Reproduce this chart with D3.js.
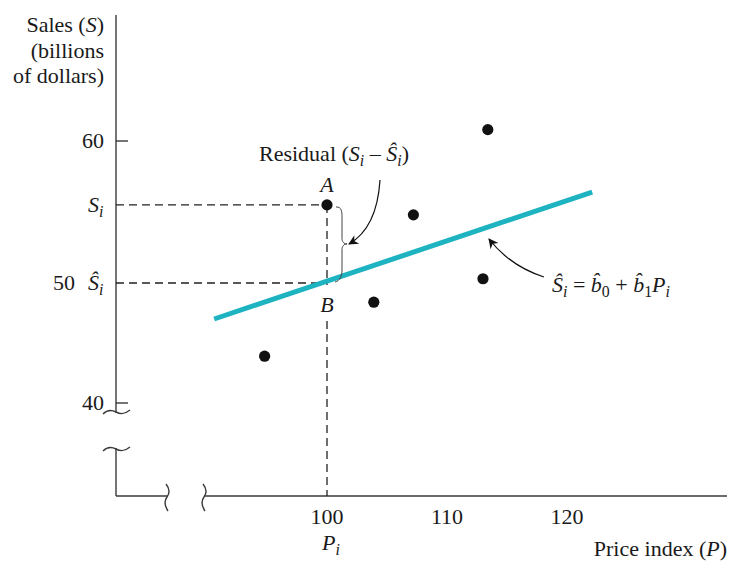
<!DOCTYPE html>
<html><head><meta charset="utf-8">
<script src="https://cdn.jsdelivr.net/npm/d3@7"></script>
<style>
body{margin:0;background:#fff;}
text{font-family:"Liberation Serif","Times New Roman",serif;fill:#1a1a1a;}
</style></head>
<body>
<svg id="c" width="729" height="564"></svg>
<script>
// ---- data ----
const xTickValues = [100, 110, 120];
const yTickValues = [40, 60];
const priceIndex = [94.8, 100, 103.9, 107.2, 113.0, 113.4];
const sales      = [43.9, 55.5, 48.4, 54.8, 50.3, 60.8];
const fitPrice = [90.6, 122.1];
const fitSales = [47.0, 56.4];
const highlightP = 100;     // P_i
const highlightS = 55.5;    // S_i
const highlightShat = 50;   // Ŝ_i

const svg = d3.select("#c");
const FS = 22;

// scales (schematic, piecewise as in the figure)
const x = d3.scaleLinear().domain([100, 120]).range([327, 567]);
const y = d3.scaleLinear().domain([40, 50, 60]).range([403, 283, 141]);

const axisX = 116, axisY = 496, axisTop = 15, axisRight = 727;
const axisColor = "#3a3a3a";

// ---- axes lines with breaks ----
const yBreakTop = 413, yBreakBot = 448;
const xBreakL = 167, xBreakR = 204;
const g = svg.append("g").attr("stroke", axisColor).attr("stroke-width", 1.4).attr("fill", "none");
g.append("line").attr("x1", axisX).attr("x2", axisX).attr("y1", axisTop).attr("y2", yBreakTop);
g.append("line").attr("x1", axisX).attr("x2", axisX).attr("y1", yBreakBot).attr("y2", axisY);
g.append("line").attr("x1", axisX).attr("x2", xBreakL).attr("y1", axisY).attr("y2", axisY);
g.append("line").attr("x1", xBreakR).attr("x2", axisRight).attr("y1", axisY).attr("y2", axisY);
function hTilde(cx, cy) {
  return `M${cx-13},${cy+2} C${cx-8},${cy-3} ${cx-4},${cy-2} ${cx},${cy} C${cx+4},${cy+2} ${cx+8},${cy+3} ${cx+14},${cy-2}`;
}
function vTilde(cx, cy) {
  return `M${cx-1},${cy-13} C${cx+3},${cy-8} ${cx+3},${cy-4} ${cx},${cy} C${cx-3},${cy+4} ${cx-3},${cy+8} ${cx+1},${cy+14}`;
}
g.append("path").attr("d", hTilde(axisX, yBreakTop - 1));
g.append("path").attr("d", hTilde(axisX, yBreakBot + 1));
g.append("path").attr("d", vTilde(xBreakL, axisY + 1));
g.append("path").attr("d", vTilde(xBreakR, axisY + 1));

// y ticks (inside)
yTickValues.forEach(v => {
  g.append("line").attr("x1", axisX).attr("x2", axisX + 12).attr("y1", y(v)).attr("y2", y(v));
  svg.append("text").attr("x", axisX - 12).attr("y", y(v) + 7).attr("text-anchor", "end")
    .attr("font-size", FS).text(v);
});
svg.append("text").attr("x", 75).attr("y", y(highlightShat) + 7).attr("text-anchor", "end")
  .attr("font-size", FS).text("50");

// x tick labels
xTickValues.forEach(v => {
  svg.append("text").attr("x", x(v)).attr("y", 524).attr("text-anchor", "middle")
    .attr("font-size", FS).text(v);
});

// axis titles
const ttl = svg.append("text").attr("font-size", FS).attr("text-anchor", "end");
ttl.append("tspan").attr("x", 104).attr("y", 32).text("Sales (");
ttl.append("tspan").attr("font-style", "italic").text("S");
ttl.append("tspan").text(")");
svg.append("text").attr("font-size", FS).attr("text-anchor", "end").attr("x", 104).attr("y", 58).text("(billions");
svg.append("text").attr("font-size", FS).attr("text-anchor", "end").attr("x", 104).attr("y", 83).text("of dollars)");

const xt = svg.append("text").attr("font-size", FS).attr("text-anchor", "end").attr("x", 727).attr("y", 556);
xt.append("tspan").text("Price index (");
xt.append("tspan").attr("font-style", "italic").text("P");
xt.append("tspan").text(")");

function symText(xp, yp, main, sub, anchor) {
  const t = svg.append("text").attr("font-size", FS).attr("x", xp).attr("y", yp).attr("text-anchor", anchor || "start");
  t.append("tspan").attr("font-style", "italic").text(main);
  t.append("tspan").attr("font-style", "italic").attr("font-size", FS * 0.72).attr("dy", 5).text(sub);
  return t;
}
symText(88, y(highlightS) + 7, "S", "i");
symText(88, y(highlightShat) + 7, "\u015C", "i");
symText(322, 550, "P", "i");

// dashed guides
const dg = svg.append("g").attr("stroke", "#222").attr("stroke-width", 1.3).attr("stroke-dasharray", "8,5").attr("fill", "none");
dg.append("line").attr("x1", axisX).attr("x2", x(highlightP)).attr("y1", y(highlightS)).attr("y2", y(highlightS));
dg.append("line").attr("x1", axisX).attr("x2", x(highlightP)).attr("y1", y(highlightShat)).attr("y2", y(highlightShat));
dg.append("line").attr("x1", x(highlightP)).attr("x2", x(highlightP)).attr("y1", y(highlightS)).attr("y2", y(highlightShat) + 2);
dg.append("line").attr("x1", x(highlightP)).attr("x2", x(highlightP)).attr("y1", y(highlightShat) + 38).attr("y2", axisY);

// fitted line
svg.append("line")
  .attr("x1", x(fitPrice[0])).attr("y1", y(fitSales[0]))
  .attr("x2", x(fitPrice[1])).attr("y2", y(fitSales[1]))
  .attr("stroke", "#1eb3c1").attr("stroke-width", 5);

// points
svg.append("g").selectAll("circle").data(priceIndex.map((p, i) => [p, sales[i]])).join("circle")
  .attr("cx", d => x(d[0])).attr("cy", d => y(d[1])).attr("r", 5.6).attr("fill", "#111");

// A and B labels
svg.append("text").attr("font-size", FS).attr("font-style", "italic").attr("text-anchor", "middle")
  .attr("x", x(highlightP)).attr("y", y(highlightS) - 13).text("A");
svg.append("text").attr("font-size", FS).attr("font-style", "italic").attr("text-anchor", "middle")
  .attr("x", x(highlightP)).attr("y", y(highlightShat) + 29).text("B");

// brace
const bx = x(highlightP) + 9, bt = y(highlightS) + 2, bb = y(highlightShat) - 2, bm = (bt + bb) / 2;
svg.append("path")
  .attr("d", `M${bx},${bt} C${bx+6},${bt} ${bx+6},${bt+5} ${bx+6},${bt+11} L${bx+6},${bm-6} C${bx+6},${bm-2} ${bx+8},${bm} ${bx+11},${bm} C${bx+8},${bm} ${bx+6},${bm+2} ${bx+6},${bm+6} L${bx+6},${bb-11} C${bx+6},${bb-5} ${bx+4},${bb} ${bx-1},${bb+1}`)
  .attr("fill", "none").attr("stroke", "#444").attr("stroke-width", 1);

// arrowhead marker
const defs = svg.append("defs");
defs.append("marker").attr("id", "ah").attr("viewBox", "0 0 10 10").attr("refX", 9).attr("refY", 5)
  .attr("markerWidth", 14).attr("markerHeight", 10).attr("markerUnits", "userSpaceOnUse").attr("orient", "auto")
  .append("path").attr("d", "M0,0 L10,5 L0,10 L3,5 Z").attr("fill", "#111");

// residual annotation
svg.append("path").attr("d", `M380,180 Q377,228 ${bx+13},${bm}`)
  .attr("fill", "none").attr("stroke", "#111").attr("stroke-width", 1.2).attr("marker-end", "url(#ah)");
const rt = svg.append("text").attr("font-size", FS).attr("x", 259).attr("y", 161);
rt.append("tspan").text("Residual (");
rt.append("tspan").attr("font-style", "italic").text("S");
rt.append("tspan").attr("font-style", "italic").attr("font-size", FS * 0.72).attr("dy", 5).text("i");
rt.append("tspan").attr("dy", -5).text(" \u2013 ");
rt.append("tspan").attr("font-style", "italic").text("\u015C");
rt.append("tspan").attr("font-style", "italic").attr("font-size", FS * 0.72).attr("dy", 5).text("i");
rt.append("tspan").attr("dy", -5).text(")");

// equation annotation
svg.append("path").attr("d", "M544,277 Q510,266 489,239")
  .attr("fill", "none").attr("stroke", "#111").attr("stroke-width", 1.2).attr("marker-end", "url(#ah)");
const et = svg.append("text").attr("font-size", FS).attr("x", 552).attr("y", 292);
et.append("tspan").attr("font-style", "italic").text("\u015C");
et.append("tspan").attr("font-style", "italic").attr("font-size", FS * 0.72).attr("dy", 5).text("i");
et.append("tspan").attr("dy", -5).text(" = ");
et.append("tspan").attr("font-style", "italic").text("b\u0302");
et.append("tspan").attr("font-size", FS * 0.72).attr("dy", 5).text("0");
et.append("tspan").attr("dy", -5).text(" + ");
et.append("tspan").attr("font-style", "italic").text("b\u0302");
et.append("tspan").attr("font-size", FS * 0.72).attr("dy", 5).text("1");
et.append("tspan").attr("dy", -5).attr("font-style", "italic").text("P");
et.append("tspan").attr("font-style", "italic").attr("font-size", FS * 0.72).attr("dy", 5).text("i");
</script>
</body></html>
